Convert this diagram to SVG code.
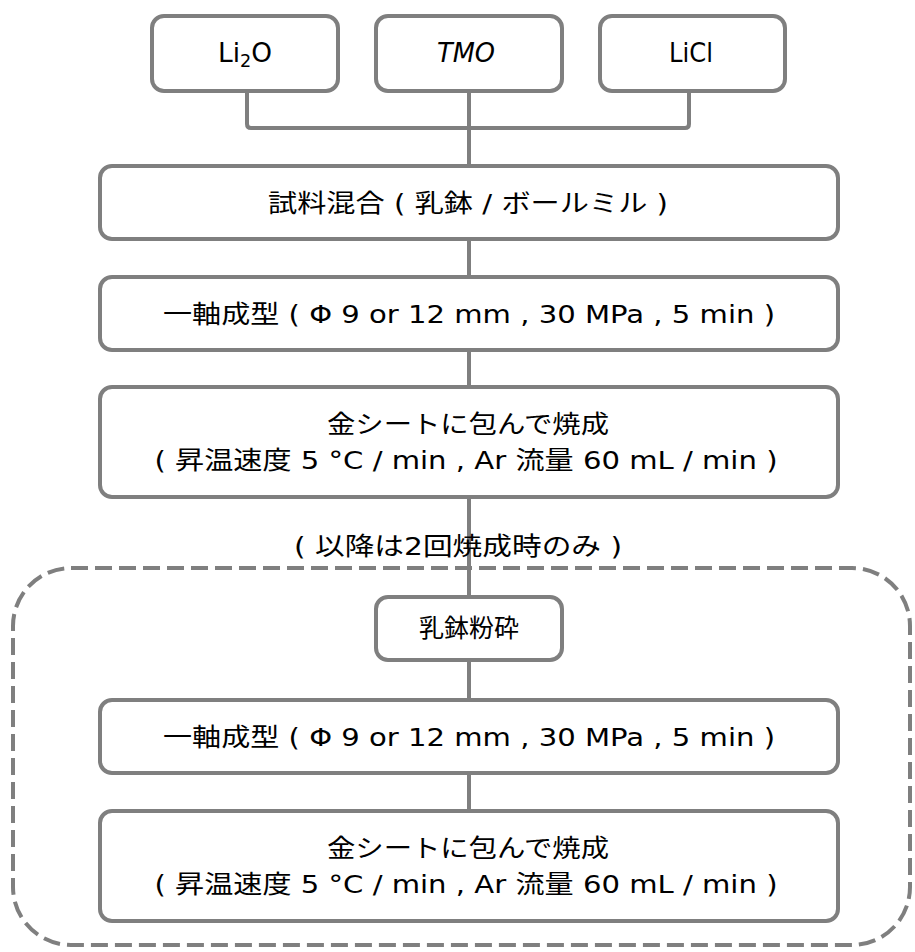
<svg xmlns="http://www.w3.org/2000/svg" width="915" height="952" viewBox="0 0 915 952">
<style>
.box{fill:#fff;stroke:#7f7f7f;stroke-width:4}
.con{fill:none;stroke:#7f7f7f;stroke-width:4}
.dash{fill:none;stroke:#7f7f7f;stroke-width:4;stroke-dasharray:17 7}
text{font-family:"DejaVu Sans","Noto Sans CJK JP",sans-serif;font-size:25px;fill:#000;text-anchor:middle}
.lat{font-size:27px}
</style>
<rect width="915" height="952" fill="#fff"/>
<g id="group-second-firing">
<rect class="dash" x="13" y="568" width="897" height="377" rx="58" ry="58"/>
</g>
<g id="connectors">
<path class="con" d="M247 91 V124 Q247 128 251 128 H685 Q689 128 689 124 V91"/>
<path class="con" d="M469 91 V166"/>
<path class="con" d="M469 239 V277"/>
<path class="con" d="M469 350 V387"/>
<path class="con" d="M469 497 V597"/>
<path class="con" d="M469 660 V700"/>
<path class="con" d="M469 773 V811"/>
</g>
<g id="node-li2o">
<rect class="box" x="152" y="16" width="186" height="75" rx="12"/>
<text class="lat" x="245" y="62" textLength="54" lengthAdjust="spacingAndGlyphs">Li<tspan font-size="18" dy="5">2</tspan><tspan dy="-5">O</tspan></text>
</g>
<g id="node-tmo">
<rect class="box" x="376" y="16" width="186" height="75" rx="12"/>
<text class="lat" x="466" y="62" font-style="italic" textLength="58" lengthAdjust="spacingAndGlyphs">TMO</text>
</g>
<g id="node-licl">
<rect class="box" x="600" y="16" width="185" height="75" rx="12"/>
<text class="lat" x="691" y="62" textLength="44" lengthAdjust="spacingAndGlyphs">LiCl</text>
</g>
<g id="node-mixing">
<rect class="box" x="100" y="166" width="738" height="73" rx="12"/>
<text x="468" y="212" textLength="400" lengthAdjust="spacingAndGlyphs">試料混合 ( 乳鉢 / ボールミル )</text>
</g>
<g id="node-pressing-1">
<rect class="box" x="100" y="277" width="738" height="73" rx="12"/>
<text x="469" y="323" textLength="612" lengthAdjust="spacingAndGlyphs">一軸成型 ( Φ 9 or 12 mm , 30 MPa , 5 min )</text>
</g>
<g id="node-firing-1">
<rect class="box" x="100" y="387" width="738" height="110" rx="12"/>
<text x="468" y="433" textLength="282" lengthAdjust="spacingAndGlyphs">金シートに包んで焼成</text>
<text x="466" y="469" textLength="623" lengthAdjust="spacingAndGlyphs">( 昇温速度 5 °C / min , Ar 流量 60 mL / min )</text>
</g>
<g id="label-second-only">
<text x="458" y="555" textLength="328" lengthAdjust="spacingAndGlyphs">( 以降は2回焼成時のみ )</text>
</g>
<g id="node-grinding">
<rect class="box" x="376" y="597" width="186" height="63" rx="12"/>
<text x="469" y="637" textLength="100" lengthAdjust="spacingAndGlyphs">乳鉢粉砕</text>
</g>
<g id="node-pressing-2">
<rect class="box" x="100" y="700" width="738" height="73" rx="12"/>
<text x="469" y="746" textLength="612" lengthAdjust="spacingAndGlyphs">一軸成型 ( Φ 9 or 12 mm , 30 MPa , 5 min )</text>
</g>
<g id="node-firing-2">
<rect class="box" x="100" y="811" width="738" height="110" rx="12"/>
<text x="468" y="857" textLength="282" lengthAdjust="spacingAndGlyphs">金シートに包んで焼成</text>
<text x="466" y="893" textLength="623" lengthAdjust="spacingAndGlyphs">( 昇温速度 5 °C / min , Ar 流量 60 mL / min )</text>
</g>
</svg>
